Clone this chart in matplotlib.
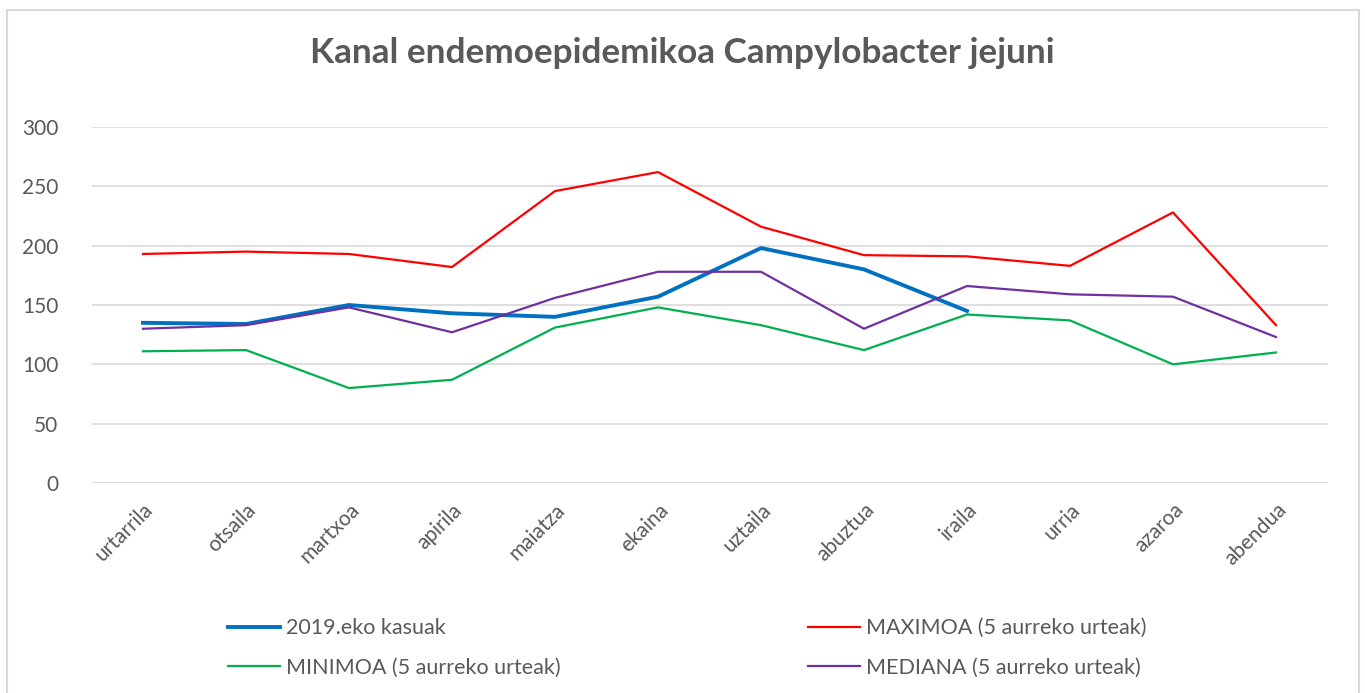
import matplotlib.pyplot as plt
from matplotlib.patches import Rectangle

plt.rcParams['font.family'] = ['Lato', 'DejaVu Sans']

months = ['urtarrila', 'otsaila', 'martxoa', 'apirila', 'maiatza', 'ekaina',
          'uztaila', 'abuztua', 'iraila', 'urria', 'azaroa', 'abendua']
cases_2019 = [135, 134, 150, 143, 140, 157, 198, 180, 145]
maximoa = [193, 195, 193, 182, 246, 262, 216, 192, 191, 183, 228, 133]
minimoa = [111, 112, 80, 87, 131, 148, 133, 112, 142, 137, 100, 110]
mediana = [130, 133, 148, 127, 156, 178, 178, 130, 166, 159, 157, 123]
yticks = [0, 50, 100, 150, 200, 250, 300]

gray = '#595959'

fig = plt.figure(figsize=(13.65, 6.93), dpi=100)
fig.patches.append(Rectangle((7 / 1365, -0.05), 1352 / 1365, 1.05 - 10 / 693,
                             transform=fig.transFigure, fill=False,
                             edgecolor='#d9d9d9', linewidth=1.5))

ax = fig.add_axes([91.5 / 1365, 1 - 483 / 693, (1327.5 - 91.5) / 1365, (483 - 127) / 693])

x = list(range(len(months)))
l1, = ax.plot(x[:len(cases_2019)], cases_2019, color='#0070C0', linewidth=2.8,
              label='2019.eko kasuak')
l2, = ax.plot(x, maximoa, color='#FF0000', linewidth=1.6, label='MAXIMOA (5 aurreko urteak)')
l3, = ax.plot(x, minimoa, color='#00B050', linewidth=1.6, label='MINIMOA (5 aurreko urteak)')
l4, = ax.plot(x, mediana, color='#7030A0', linewidth=1.6, label='MEDIANA (5 aurreko urteak)')

ax.set_xlim(-0.5, len(months) - 0.5)
ax.set_ylim(0, 300)
ax.set_yticks(yticks)
ax.yaxis.grid(True, color='#d9d9d9', linewidth=1.2)
ax.set_axisbelow(True)
for s in ax.spines.values():
    s.set_visible(False)
ax.tick_params(length=0, labelsize=15, labelcolor=gray)
ax.tick_params(axis='y', pad=24)
ax.set_xticks(x)
ax.set_xticklabels(months, rotation=45, ha='right', rotation_mode='anchor')
ax.tick_params(axis='x', pad=12)

fig.text(0.5, 1 - 53 / 693, 'Kanal endemoepidemikoa Campylobacter jejuni',
         ha='center', va='center', fontsize=25.3, fontweight='bold', color=gray)

leg = fig.legend([l1, l3, l2, l4], [l1.get_label(), l3.get_label(), l2.get_label(), l4.get_label()],
                 ncol=2, loc='center left', bbox_to_anchor=(209 / 1365, 1 - 648 / 693),
                 frameon=False, fontsize=15.5, handlelength=2.4, handletextpad=0.28,
                 columnspacing=11.5, labelspacing=0.9)
for t in leg.get_texts():
    t.set_color(gray)

fig.savefig('out.png', dpi=100)
